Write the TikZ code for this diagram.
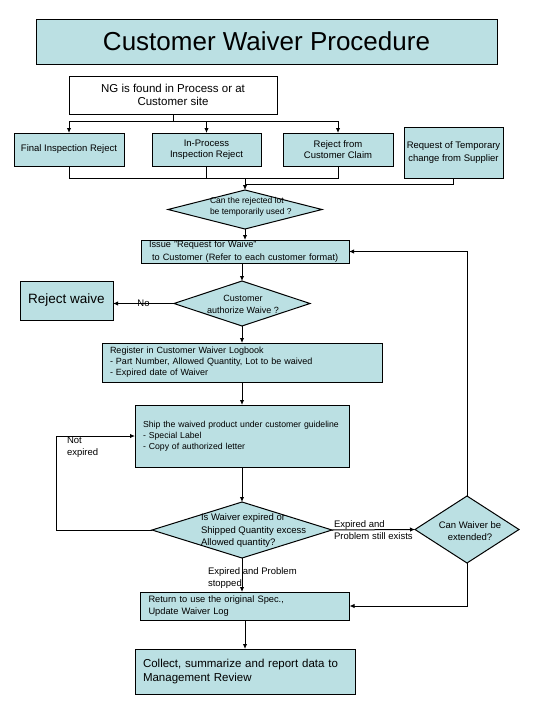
\documentclass[tikz,border=0pt]{standalone}
\usepackage{fontspec}
\setmainfont{Liberation Sans}
\usetikzlibrary{shapes.geometric,arrows.meta}
\definecolor{wcyan}{RGB}{187,224,227}
\newcommand\fs[2]{\fontsize{#1}{#2}\selectfont}
\begin{document}
\begin{tikzpicture}[x=1pt,y=-1pt,
  every node/.style={inner sep=0pt, outer sep=0pt},
  line/.style={line width=1pt},
  arr/.style={line width=1pt,-{Latex[length=5pt,width=4.5pt]}},
  box/.style={draw, fill=wcyan, line width=1pt, align=center},
  wbox/.style={draw, fill=white, line width=1pt, align=center},
  lbox/.style={box, align=left, inner xsep=8pt},
  dia/.style={draw, fill=wcyan, line width=1pt, diamond},
  lab/.style={align=left, font=\fs{9.5}{12.5}},
  ]
\useasboundingbox (0,0) rectangle (540,720);
\fill[white] (0,0) rectangle (540,720);
% boxes
\node[box, minimum width=461, minimum height=45, font=\fs{26}{30}] (title) at (266.5,41.5) {Customer Waiver Procedure};
\node[wbox, minimum width=208, minimum height=38, font=\fs{11.5}{13.5}] (ng) at (173,95) {NG is found in Process or at\\Customer site};
\node[box, minimum width=110, minimum height=33, font=\fs{9.5}{11}] (f1) at (69,149.5) {Final Inspection Reject};
\node[box, minimum width=109, minimum height=33, font=\fs{9.5}{11}] (f2) at (206.5,149.5) {In-Process\\Inspection Reject};
\node[box, minimum width=110, minimum height=33, font=\fs{9.5}{11}] (f3) at (338,149.5) {Reject from\\Customer Claim};
\node[box, minimum width=99, minimum height=51, font=\fs{9.5}{13.5}] (rq) at (453.5,152.5) {Request of Temporary\\change from Supplier};
\node[dia, minimum width=154, minimum height=39] (d1) at (245,209.5) {};
\node[lab, font=\fs{8.5}{11}, anchor=west] (d1t) at (210,207) {Can the rejected lot\\be temporarily used ?};
\node[lbox, text width=192, minimum height=23, font=\fs{9.2}{12.5}] (is) at (245,251.5) {\mbox{Issue "Request for Waive"}\\\mbox{\ to Customer (Refer to each customer format)}};
\node[dia, minimum width=136, minimum height=45] (d2) at (242,303.5) {};
\node[lab, font=\fs{9}{12}, align=center] (d2t) at (243,304) {Customer\\authorize Waive ?};
\node[box, minimum width=93, minimum height=39, font=\fs{13.5}{16}] (rw) at (66.5,300.5) {Reject waive};
\node[lbox, text width=264, minimum height=39, font=\fs{9}{11}] (rg) at (242,362.5) {Register in Customer Waiver Logbook\\\mbox{- Part Number, Allowed Quantity, Lot to be waived}\\- Expired date of Waiver};
\node[lbox, text width=198, minimum height=62, font=\fs{8.7}{11}] (sh) at (242,436) {\mbox{Ship the waived product under customer guideline}\\- Special Label\\- Copy of authorized letter};
\node[dia, minimum width=180, minimum height=56] (d3) at (242,530) {};
\node[lab, anchor=west] (d3t) at (201,531) {Is Waiver expired or\\Shipped Quantity excess\\Allowed quantity?};
\node[dia, minimum width=104, minimum height=67] (d4) at (467,529.5) {};
\node[lab, align=center] (d4t) at (470,531) {Can Waiver be\\extended?};
\node[lbox, text width=193, minimum height=28, font=\fs{9.3}{11.5}] (rt) at (245,606) {Return to use the original Spec.,\\Update Waiver Log};
\node[lbox, text width=204, minimum height=45, font=\fs{11.5}{14}] (cl) at (245,671.5) {\mbox{Collect, summarize and report data to}\\Management Review};
% connectors
\coordinate (j1) at (173,121);
\draw[line] (ng.south) -- (j1);
\draw[line] (f1.north |- j1) -- (f3.north |- j1);
\draw[arr] (f1.north |- j1) -- (f1.north);
\draw[arr] (f2.north |- j1) -- (f2.north);
\draw[arr] (f3.north |- j1) -- (f3.north);
\coordinate (j2) at (245,178);
\coordinate (j3) at (245,184);
\draw[line] (f1.south) |- (f3.south |- j2) -- (f3.south);
\draw[line] (f2.south) -- (f2.south |- j2);
\draw[line] (rq.south) |- (j3);
\draw[arr] (j2) -- (d1.north);
\draw[arr] (d1.south) -- (is.north);
\draw[arr] (d2.north |- is.south) -- (d2.north);
\draw[arr] (d2.west) -- node[lab, font=\fs{9.5}{11}] (no) {No} (d2.west -| rw.east);
\draw[arr] (d2.south) -- (rg.north);
\draw[arr] (rg.south) -- (sh.north);
\draw[arr] (sh.south) -- (d3.north);
\coordinate (lp) at (56,530);
\draw[arr] (d3.west) -- (lp) |- (sh.west);
\node[lab, anchor=west] (ne) at (67,447) {Not\\expired};
\draw[arr] (d3.east) -- (d4.west);
\node[lab, anchor=west] (ep) at (334,530) {Expired and\\Problem still exists};
\draw[arr] (d4.north) |- (is.east);
\draw[arr] (d4.south) |- (rt.east);
\draw[arr] (d3.south) -- (d3.south |- rt.north);
\node[lab, anchor=west] (es) at (208,578) {Expired and Problem\\stopped};
\draw[arr] (rt.south) -- (cl.north);
\end{tikzpicture}
\end{document}
